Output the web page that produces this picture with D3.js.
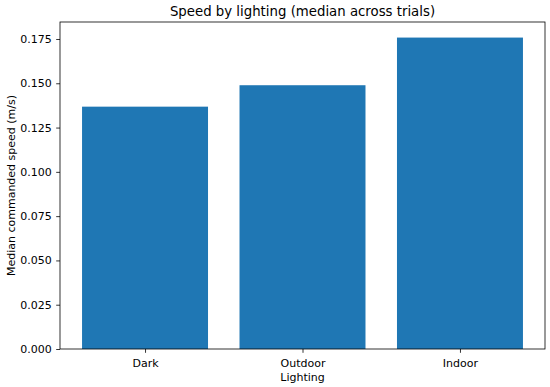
<!DOCTYPE html>
<html>
<head>
<meta charset="utf-8">
<script src="https://cdn.jsdelivr.net/npm/d3@7"></script>
<style>
  body { margin: 0; background: #fff; }
  svg { display: block; font-family: "DejaVu Sans", sans-serif; }
</style>
</head>
<body>
<div id="chart"></div>
<script>
const categories = ['Dark', 'Outdoor', 'Indoor'];
const speeds = [0.1368, 0.1489, 0.1758];
const yTicks = [0, 0.025, 0.05, 0.075, 0.1, 0.125, 0.15, 0.175];

const W = 550, H = 387;
const margin = {top: 22, right: 5, bottom: 38, left: 60};
const width = W - margin.left - margin.right,
  height = H - margin.top - margin.bottom;

const svg = d3.select('#chart').append('svg')
  .attr('width', W)
  .attr('height', H);

const g = svg.append('g')
  .attr('transform', 'translate(' + margin.left + ',' + margin.top + ')');

// matplotlib-like limits: bars of width 0.8, 5% margins
const x = d3.scaleLinear()
  .domain([-0.54, categories.length - 1 + 0.54])
  .range([0, width]);

const y = d3.scaleLinear()
  .domain([0, d3.max(speeds) * 1.05])
  .range([height, 0]);

g.selectAll('.bar')
  .data(speeds)
  .enter().append('rect')
  .attr('class', 'bar')
  .attr('x', (d, i) => x(i - 0.4))
  .attr('width', x(0.8) - x(0))
  .attr('y', d => y(d))
  .attr('height', d => height - y(d))
  .attr('fill', '#1f77b4');

// y axis
const yAxis = g.append('g')
  .call(d3.axisLeft(y).tickValues(yTicks).tickFormat(d3.format('.3f'))
    .tickSize(3.8).tickPadding(4.5));

// x axis
const xAxis = g.append('g')
  .attr('transform', 'translate(0,' + height + ')')
  .call(d3.axisBottom(x).tickValues(d3.range(categories.length))
    .tickFormat(i => categories[i]).tickSize(3.8).tickPadding(6.2));

[xAxis, yAxis].forEach(a => {
  a.select('.domain').remove();
  a.selectAll('.tick line').attr('stroke', '#000').attr('stroke-width', 0.8);
  a.selectAll('.tick text').attr('fill', '#000').style('font-size', '11px')
    .style('font-family', '"DejaVu Sans", sans-serif');
});

// frame
g.append('rect')
  .attr('width', width)
  .attr('height', height)
  .attr('fill', 'none')
  .attr('stroke', '#000')
  .attr('stroke-width', 0.8);

svg.append('text')
  .attr('x', margin.left + width / 2)
  .attr('y', 15.5)
  .attr('text-anchor', 'middle')
  .style('font-size', '13.3px')
  .text('Speed by lighting (median across trials)');

svg.append('text')
  .attr('x', margin.left + width / 2)
  .attr('y', 381)
  .attr('text-anchor', 'middle')
  .style('font-size', '11px')
  .text('Lighting');

svg.append('text')
  .attr('transform', 'translate(15,' + (margin.top + height / 2) + ') rotate(-90)')
  .attr('text-anchor', 'middle')
  .style('font-size', '11px')
  .text('Median commanded speed (m/s)');
</script>
</body>
</html>
